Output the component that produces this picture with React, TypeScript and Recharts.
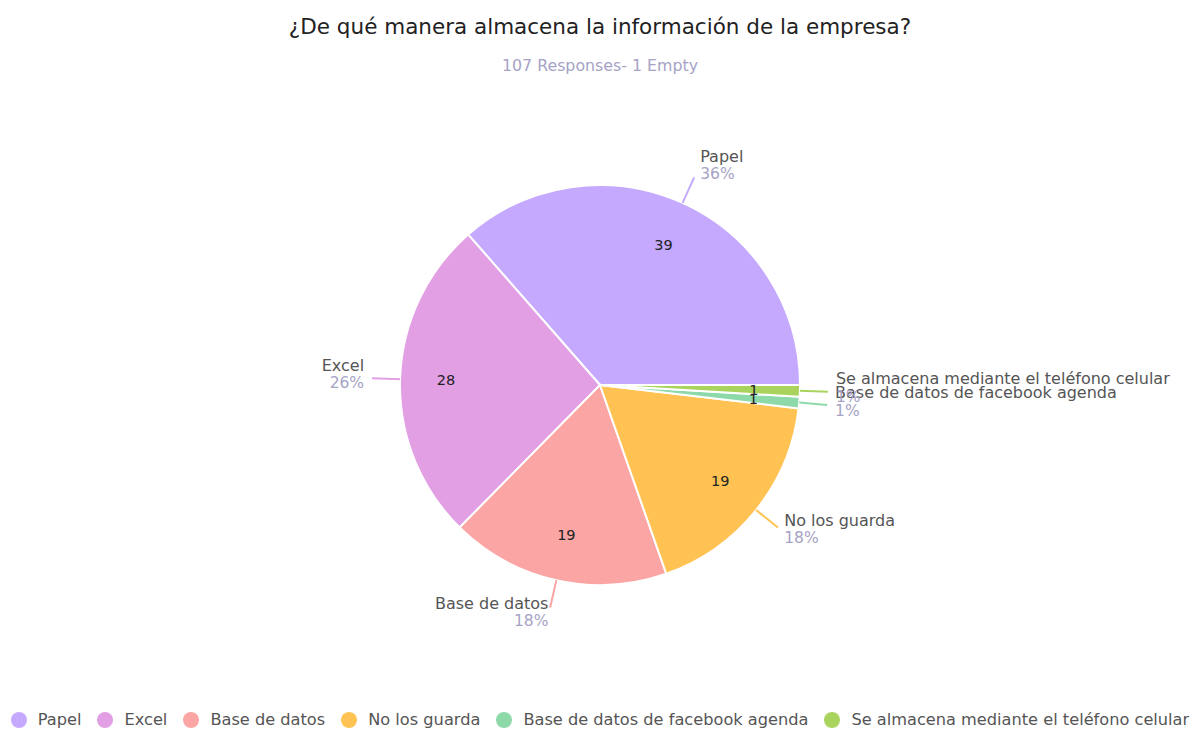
import { PieChart, Pie, Cell } from "recharts";

const categories = [
  "Papel",
  "Excel",
  "Base de datos",
  "No los guarda",
  "Base de datos de facebook agenda",
  "Se almacena mediante el teléfono celular",
];
const counts = [39, 28, 19, 19, 1, 1];
const colors = ["#c5a9ff", "#e29fe4", "#fba5a5", "#ffc253", "#8ed9a9", "#a9d35c"];

const title = "¿De qué manera almacena la información de la empresa?";
const subtitle = "107 Responses- 1 Empty";

const data = categories.map((name, i) => ({ name, value: counts[i] }));

const FONT = "'DejaVu Sans', Roboto, sans-serif";
const RAD = Math.PI / 180;

function renderLabel(props: any) {
  const { cx, cy, midAngle, outerRadius, percent, name, value, index } = props;
  const cos = Math.cos(-midAngle * RAD);
  const sin = Math.sin(-midAngle * RAD);
  const sinUp = Math.sin(midAngle * RAD);

  // value inside the slice
  const ir = outerRadius * 0.77;
  const vx = cx + ir * cos;
  const vy = cy + ir * sin;

  // leader line
  const sx = cx + outerRadius * cos;
  const sy = cy + outerRadius * sin;
  const ex = cx + (outerRadius + 28) * cos;
  const ey = cy + (outerRadius + 28) * sin;

  const right = cos >= 0;
  const dx = right ? Math.max(6, 8 * cos) : Math.min(-1, 8 * cos);
  const tx = ex + dx;
  const shift = -9 * sinUp;

  return (
    <g key={`lbl-${index}`}>
      <text
        x={vx}
        y={vy}
        textAnchor="middle"
        dominantBaseline="central"
        fill="#222"
        fontSize={14.5}
        fontFamily={FONT}
      >
        {value}
      </text>
      <path d={`M${sx},${sy}L${ex},${ey}`} stroke={colors[index]} strokeWidth={2} fill="none" />
      <text
        x={tx}
        y={ey - 13 + shift}
        textAnchor={right ? "start" : "end"}
        dominantBaseline="central"
        fill="#555"
        fontSize={16}
        fontFamily={FONT}
      >
        {name}
      </text>
      <text
        x={tx}
        y={ey + 5 + shift}
        textAnchor={right ? "start" : "end"}
        dominantBaseline="central"
        fill="#a6a3c6"
        fontSize={15.5}
        fontFamily={FONT}
      >
        {`${Math.round(percent * 100)}%`}
      </text>
    </g>
  );
}

export default function App() {
  return (
    <div
      style={{
        position: "absolute",
        left: 0,
        top: 0,
        width: 1200,
        height: 731,
        background: "#fff",
        fontFamily: FONT,
      }}
    >
      <div
        style={{
          position: "absolute",
          top: 14,
          width: 1200,
          textAlign: "center",
          fontSize: 21.5,
          color: "#222",
        }}
      >
        {title}
      </div>
      <div
        style={{
          position: "absolute",
          top: 56,
          width: 1200,
          textAlign: "center",
          fontSize: 15.8,
          color: "#a6a3c6",
        }}
      >
        {subtitle}
      </div>
      <div style={{ position: "absolute", left: 0, top: 0 }}>
        <PieChart width={1200} height={690} margin={{ top: 0, right: 0, bottom: 0, left: 0 }}>
          <Pie
            data={data}
            dataKey="value"
            nameKey="name"
            cx={600}
            cy={385}
            outerRadius={200}
            startAngle={0}
            endAngle={360}
            stroke="#fff"
            strokeWidth={2}
            label={renderLabel}
            labelLine={false}
            isAnimationActive={false}
          >
            {data.map((d, i) => (
              <Cell key={d.name} fill={colors[i]} />
            ))}
          </Pie>
        </PieChart>
      </div>
      <div
        style={{
          position: "absolute",
          top: 710,
          left: 0,
          width: 1200,
          display: "flex",
          justifyContent: "center",
          fontSize: 16.2,
          color: "#555",
        }}
      >
        {categories.map((c, i) => (
          <div
            key={c}
            style={{ display: "flex", alignItems: "center", marginRight: i < categories.length - 1 ? 16 : 0 }}
          >
            <span
              style={{
                width: 16,
                height: 16,
                borderRadius: 8,
                background: colors[i],
                marginRight: 11,
                display: "inline-block",
              }}
            />
            <span>{c}</span>
          </div>
        ))}
      </div>
    </div>
  );
}
